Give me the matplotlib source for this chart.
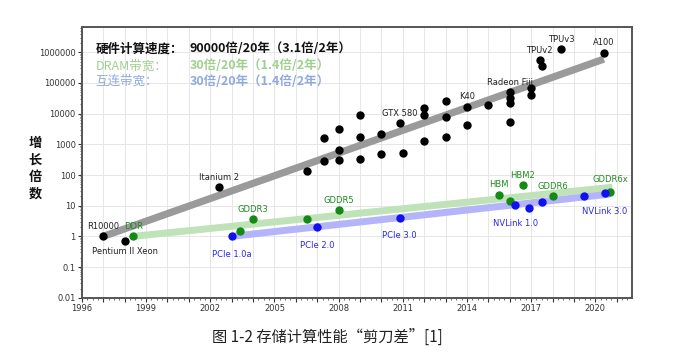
import numpy as np
import matplotlib
matplotlib.use("Agg")
import matplotlib.pyplot as plt
from matplotlib.ticker import MultipleLocator, FixedLocator, FuncFormatter, LogLocator, NullFormatter

plt.rcParams['font.family'] = ['DejaVu Sans', 'Noto Sans CJK SC']
CJK = ['Noto Sans CJK SC', 'DejaVu Sans']

# hardware compute (black)
compute_years = [1997.0, 1998.0, 2002.4, 2006.5, 2007.3, 2007.3, 2008.0, 2008.0, 2008.0,
                 2009.0, 2009.0, 2009.0, 2010.0, 2010.0, 2010.85, 2011.0, 2012.0, 2012.0,
                 2012.0, 2013.0, 2013.0, 2013.0, 2014.0, 2014.0, 2015.0, 2016.0, 2016.0,
                 2016.0, 2016.0, 2017.0, 2017.0, 2017.4, 2017.5, 2018.4, 2020.4]
compute_vals = [1, 0.72, 40, 138, 1600, 280, 3200, 630, 310,
                9100, 1800, 340, 2170, 490, 4900, 535, 15500, 9100,
                1240, 25000, 7800, 1800, 17000, 4300, 19000, 50000, 32000,
                22000, 5200, 68000, 42000, 570000, 345000, 1.3e6, 9.8e5]
compute_labels = {0: 'R10000', 1: 'Pentium II Xeon', 2: 'Itanium 2', 14: 'GTX 580',
                  22: 'K40', 25: 'Radeon Fiji', 31: 'TPUv2', 33: 'TPUv3', 34: 'A100'}
compute_trend_x = [1997.0, 2020.4]
compute_trend_y = [1, 6e5]

# DRAM bandwidth (green)
dram_years = [1998.4, 2003.4, 2004.0, 2006.5, 2008.0, 2015.5, 2016.0, 2016.6, 2018.0, 2020.7]
dram_vals = [1, 1.45, 3.6, 3.6, 7.2, 23, 14.5, 46, 21, 28]
dram_labels = {0: 'DDR', 2: 'GDDR3', 4: 'GDDR5', 5: 'HBM', 7: 'HBM2', 8: 'GDDR6', 9: 'GDDR6x'}
dram_trend_x = [1998.4, 2020.8]
dram_trend_y = [1, 40]

# interconnect bandwidth (blue)
link_years = [2003.0, 2007.0, 2010.85, 2016.25, 2016.9, 2017.5, 2019.45, 2020.45]
link_vals = [1, 2.0, 4.0, 10.2, 8.2, 12.8, 21, 25]
link_labels = {0: 'PCIe 1.0a', 1: 'PCIe 2.0', 2: 'PCIe 3.0', 3: 'NVLink 1.0', 7: 'NVLink 3.0'}
link_trend_x = [2003.0, 2020.7]
link_trend_y = [1, 24]

ytick_vals = [0.01, 0.1, 1, 10, 100, 1000, 10000, 100000, 1000000]

fig = plt.figure(figsize=(7, 3.64), dpi=100)
ax = fig.add_axes([0.117, 0.182, 0.7854, 0.7438])

# trend bands
ax.plot(compute_trend_x, compute_trend_y, color='#9a9a9a', lw=5.2, solid_capstyle='butt', zorder=2)
ax.plot(dram_trend_x, dram_trend_y, color='#bfe2b8', lw=5, solid_capstyle='butt', zorder=2)
ax.plot(link_trend_x, link_trend_y, color='#b4b4fa', lw=5, solid_capstyle='butt', zorder=2)

ax.plot(compute_years, compute_vals, 'o', color='black', ms=5, zorder=4)
ax.plot(dram_years, dram_vals, 'o', color='#138a13', ms=5, zorder=4)
ax.plot(link_years, link_vals, 'o', color='#1010f0', ms=5, zorder=4)

# point labels: above by default, some below
below = {'Pentium II Xeon': -8, 'PCIe 1.0a': -13, 'PCIe 2.0': -13, 'PCIe 3.0': -13,
         'NVLink 1.0': -13, 'NVLink 3.0': -13}
groups = [(compute_years, compute_vals, compute_labels, '#222222'),
          (dram_years, dram_vals, dram_labels, '#1f8a1f'),
          (link_years, link_vals, link_labels, '#2a2ae0')]
for xs, ys, labs, col in groups:
    for i, name in labs.items():
        dy = below.get(name, 7)
        if name == 'GDDR6x':
            dy = 9
        ax.annotate(name, (xs[i], ys[i]), xytext=(0, dy), textcoords='offset points',
                    ha='center', va='center', fontsize=6, color=col, zorder=5)

ax.set_yscale('log')
ax.set_ylim(0.01, 6.67e6)
ax.set_xlim(1996, 2021.7)

ax.yaxis.set_major_locator(FixedLocator(ytick_vals))
ax.yaxis.set_major_formatter(FuncFormatter(lambda v, p: ('%.2f' % v).rstrip('0').rstrip('.') if v < 1 else '%d' % v))
ax.yaxis.set_minor_locator(LogLocator(base=10, subs=np.arange(2, 10), numticks=20))
ax.yaxis.set_minor_formatter(NullFormatter())

ax.xaxis.set_major_locator(MultipleLocator(1))
ax.xaxis.set_major_formatter(FuncFormatter(lambda v, p: '%d' % round(v) if (round(v) - 1996) % 3 == 0 else ''))
ax.xaxis.set_minor_locator(MultipleLocator(0.25))

ax.tick_params(axis='both', which='major', labelsize=6, length=3, width=0.8, colors='#333333', pad=1.5)
ax.tick_params(axis='both', which='minor', length=1.5, width=0.6, color='#555555')
ax.grid(True, which='major', color='#e6e6e6', lw=0.7)
ax.set_axisbelow(True)
for s in ax.spines.values():
    s.set_color('#555555')
    s.set_linewidth(1.4)

# summary text in upper left
rows = [('硬件计算速度：', '90000倍/20年（3.1倍/2年）', '#111111', 'bold', 0.919),
        ('DRAM带宽：', '30倍/20年（1.4倍/2年）', '#9fd08f', 'normal', 0.857),
        ('互连带宽：', '30倍/20年（1.4倍/2年）', '#8eaae0', 'normal', 0.800)]
for left, right, col, wt, yy in rows:
    ax.text(0.025, yy, left, transform=ax.transAxes, fontsize=9, color=col,
            fontweight=wt, family=CJK, va='center', ha='left')
    ax.text(0.1965, yy, right, transform=ax.transAxes, fontsize=9, color=col,
            fontweight='bold', family=CJK, va='center', ha='left')

fig.text(0.05, 0.537, '增\n长\n倍\n数', fontsize=9.5, family=CJK, ha='center', va='center',
         linespacing=1.25, color='#111111', fontweight='bold')

fig.text(0.468, 0.075, '图 1-2 存储计算性能“剪刀差”[1]', fontsize=11, family=CJK,
         ha='center', va='center', color='#222222')

fig.savefig('out.png', dpi=100)
